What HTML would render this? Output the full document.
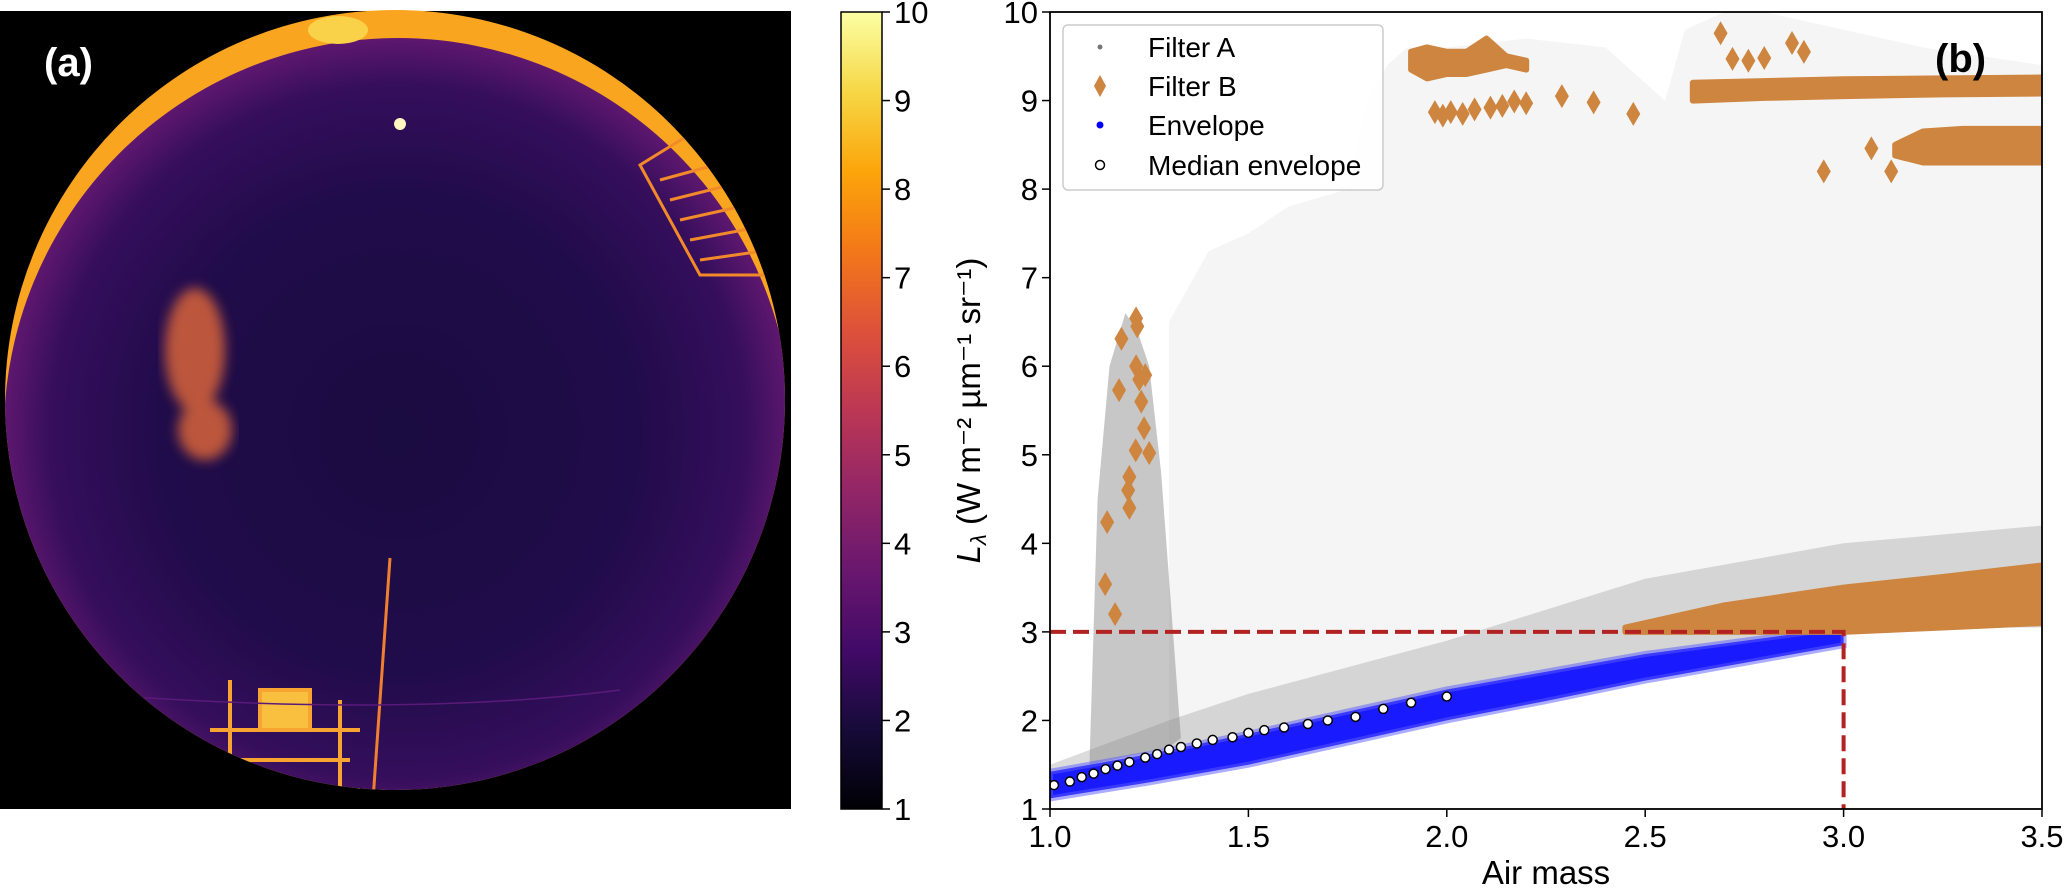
<!DOCTYPE html>
<html><head><meta charset="utf-8"><style>
html,body{margin:0;padding:0;background:#fff;}
svg{display:block;font-family:"Liberation Sans","DejaVu Sans",sans-serif;}
</style></head><body>
<svg id="fig" width="2067" height="891" viewBox="0 0 2067 891" xmlns="http://www.w3.org/2000/svg">
<defs>
<linearGradient id="inferno" x1="0" y1="1" x2="0" y2="0">
<stop offset="0" stop-color="#000004"/><stop offset="0.1" stop-color="#160b39"/><stop offset="0.2" stop-color="#420a68"/><stop offset="0.3" stop-color="#6a176e"/><stop offset="0.4" stop-color="#932667"/><stop offset="0.5" stop-color="#bc3754"/><stop offset="0.6" stop-color="#dd513a"/><stop offset="0.7" stop-color="#f37819"/><stop offset="0.8" stop-color="#fca50a"/><stop offset="0.9" stop-color="#f6d746"/><stop offset="1" stop-color="#fcffa4"/>
</linearGradient>
<radialGradient id="sky" cx="398" cy="432" r="394" gradientUnits="userSpaceOnUse">
<stop offset="0" stop-color="#1a0b40"/><stop offset="0.6" stop-color="#200c4a"/><stop offset="0.88" stop-color="#350e5c"/><stop offset="1" stop-color="#5e176f"/>
</radialGradient>
<clipPath id="circ"><circle cx="395" cy="400" r="390"/></clipPath>
<filter id="blur"><feGaussianBlur stdDeviation="6"/></filter>
</defs>

<g>
<rect x="0" y="11" width="791" height="798" fill="#000"/>
<g clip-path="url(#circ)">
<rect x="0" y="0" width="791" height="809" fill="#f9a51f"/>
<circle cx="398" cy="432" r="394" fill="url(#sky)"/>
<ellipse cx="338" cy="30" rx="30" ry="14" fill="#f9d24a"/>
<g stroke="#f28a2a" stroke-width="3" fill="none">
<path d="M640 165 L700 128 L770 128 L770 275 L700 275 Z"/>
<path d="M660 180 L770 150 M670 200 L770 175 M680 220 L770 200 M690 240 L770 225 M700 260 L770 250"/>
</g>
<g stroke="#f7a530" stroke-width="4" fill="none">
<path d="M210 730 L360 730 M220 760 L350 760 M215 790 L360 790 M230 680 L230 790 M340 700 L340 790"/>
<rect x="260" y="690" width="50" height="40" fill="#f9c040"/>
</g>
<path d="M390 558 L373 800" stroke="#f08030" stroke-width="3"/>
<path d="M40 690 Q390 720 620 690" stroke="#5a1a7a" stroke-width="1.5" fill="none"/>
<path d="M590 800 L700 720 L800 670 L800 820 Z" fill="#f9b530"/>
<g fill="#d8643a" opacity="0.85" filter="url(#blur)">
<ellipse cx="195" cy="350" rx="30" ry="62"/>
<ellipse cx="205" cy="430" rx="27" ry="30"/>
</g>
<circle cx="400" cy="124" r="6" fill="#fff6c0"/>
</g>
<text x="44" y="76" font-size="40" font-weight="bold" fill="#fff">(a)</text>
</g>

<g>
<rect x="841" y="12" width="41" height="797" fill="url(#inferno)" stroke="#000" stroke-width="1.5"/>
<g id="cbticks"></g>
</g>

<g id="chart"></g>
</svg>

<script>
const xTicks = [1.0, 1.5, 2.0, 2.5, 3.0, 3.5];
const xTickLabels = ["1.0", "1.5", "2.0", "2.5", "3.0", "3.5"];
const yTicks = [1, 2, 3, 4, 5, 6, 7, 8, 9, 10];
const yTickLabels = ["1", "2", "3", "4", "5", "6", "7", "8", "9", "10"];
const cbTicks = [1, 2, 3, 4, 5, 6, 7, 8, 9, 10];

const sparseX = [1.3, 1.4, 1.5, 1.6, 1.75, 1.8, 1.85, 1.9, 2.0, 2.2, 2.4, 2.55, 2.6, 2.7, 2.8, 3.0, 3.2, 3.5];
const sparseTop = [6.5, 7.3, 7.5, 7.8, 8.0, 9.0, 9.4, 9.6, 9.6, 9.7, 9.6, 9.0, 9.8, 10, 10, 9.8, 9.6, 9.4];
const denseX = [1.0, 1.3, 1.5, 2.0, 2.5, 3.0, 3.5];
const denseTop = [1.5, 2.0, 2.3, 2.9, 3.6, 4.0, 4.2];
const spikeX = [1.1, 1.12, 1.15, 1.19, 1.22, 1.25, 1.28, 1.31, 1.33, 1.3, 1.2, 1.1];
const spikeY = [1.6, 4.5, 6.0, 6.6, 6.4, 6.0, 4.8, 3.0, 1.8, 1.7, 1.6, 1.5];

const envX = [1.0, 1.25, 1.5, 1.75, 2.0, 2.25, 2.5, 2.75, 3.0];
const envLo = [1.12, 1.3, 1.5, 1.75, 2.0, 2.22, 2.45, 2.65, 2.85];
const envHi = [1.42, 1.62, 1.85, 2.1, 2.35, 2.55, 2.75, 2.9, 3.05];

const medX = [1.01, 1.05, 1.08, 1.11, 1.14, 1.17, 1.2, 1.24, 1.27, 1.3, 1.33, 1.37, 1.41, 1.46, 1.5, 1.54, 1.59, 1.65, 1.7, 1.77, 1.84, 1.91, 2.0];
const medY = [1.27, 1.31, 1.36, 1.4, 1.45, 1.49, 1.53, 1.58, 1.62, 1.67, 1.7, 1.74, 1.78, 1.81, 1.86, 1.89, 1.92, 1.96, 2.0, 2.04, 2.13, 2.2, 2.27];

const bLowX = [2.45, 2.6, 2.7, 2.85, 3.0, 3.25, 3.5];
const bLowLo = [3.0, 3.0, 3.0, 3.0, 3.0, 3.05, 3.1];
const bLowHi = [3.05, 3.2, 3.3, 3.4, 3.5, 3.62, 3.75];
const bTopX = [2.62, 2.8, 3.0, 3.25, 3.5];
const bTopLo = [9.0, 9.03, 9.05, 9.07, 9.08];
const bTopHi = [9.2, 9.22, 9.24, 9.25, 9.26];
const bMidX = [3.13, 3.2, 3.3, 3.4, 3.5];
const bMidLo = [8.38, 8.3, 8.3, 8.3, 8.3];
const bMidHi = [8.5, 8.65, 8.68, 8.68, 8.68];
const bBlobX = [1.91, 1.95, 2.0, 2.05, 2.1, 2.15, 2.2];
const bBlobLo = [9.35, 9.25, 9.3, 9.3, 9.35, 9.4, 9.35];
const bBlobHi = [9.55, 9.6, 9.55, 9.55, 9.7, 9.5, 9.45];

const bX = [1.139, 1.144, 1.164, 1.18, 1.217, 1.22, 1.174, 1.217, 1.225, 1.237, 1.25, 1.216, 1.2, 1.197, 1.2, 1.23, 1.24, 1.97, 1.99, 2.01, 2.04, 2.07, 2.11, 2.14, 2.17, 2.2, 2.29, 2.37, 2.47, 2.69, 2.72, 2.76, 2.8, 2.87, 2.9, 2.95, 3.07, 3.12];
const bY = [3.54, 4.24, 3.2, 6.31, 6.54, 6.45, 5.73, 6.0, 5.85, 5.3, 5.02, 5.05, 4.75, 4.6, 4.4, 5.6, 5.9, 8.87, 8.83, 8.87, 8.85, 8.9, 8.92, 8.94, 8.99, 8.97, 9.05, 8.98, 8.85, 9.76, 9.47, 9.45, 9.48, 9.65, 9.55, 8.2, 8.46, 8.2];

const L = 1050, R = 2042, T = 12, B = 809;
const X = v => L + (v - 1) / 2.5 * (R - L);
const Y = v => B - (v - 1) / 9 * (B - T);
const NS = "http://www.w3.org/2000/svg";
const chart = document.getElementById('chart');
function mk(tag, attrs, parent) {
  const e = document.createElementNS(NS, tag);
  for (const k in attrs) e.setAttribute(k, attrs[k]);
  (parent || chart).appendChild(e);
  return e;
}
function interp(xs, ys, x) {
  if (x <= xs[0]) return ys[0];
  for (let i = 1; i < xs.length; i++) if (x <= xs[i]) { const t = (x - xs[i-1]) / (xs[i] - xs[i-1]); return ys[i-1] + t * (ys[i] - ys[i-1]); }
  return ys[ys.length - 1];
}
function bandPath(xs, lo, hi) {
  let d = xs.map((x, i) => (i ? 'L' : 'M') + X(x).toFixed(1) + ' ' + Y(hi[i]).toFixed(1)).join(' ');
  for (let i = xs.length - 1; i >= 0; i--) d += ' L' + X(xs[i]).toFixed(1) + ' ' + Y(lo[i]).toFixed(1);
  return d + ' Z';
}
const clip = mk('clipPath', {id: 'plotclip'});
mk('rect', {x: L, y: T, width: R - L, height: B - T}, clip);
const g = mk('g', {'clip-path': 'url(#plotclip)'});



let el = mk('path', {d: bandPath(sparseX, sparseX.map(x => interp(envX, envHi, x)), sparseTop), fill: 'rgba(160,160,160,0.1)'}, g);


el = mk('path', {d: bandPath(denseX, denseX.map(x => interp(envX, envHi, x)), denseTop), fill: 'rgba(140,140,140,0.3)'}, g);


el = mk('path', {d: spikeX.map((x, i) => (i ? 'L' : 'M') + X(x).toFixed(1) + ' ' + Y(spikeY[i]).toFixed(1)).join(' ') + ' Z', fill: 'rgba(130,130,130,0.45)'}, g);



el = mk('path', {d: bandPath(envX, envLo, envHi), fill: '#1a1aff', stroke: 'rgba(90,90,255,0.5)', 'stroke-width': 6}, g);



[[bLowX, bLowLo, bLowHi, 'filter-b-low-band'], [bTopX, bTopLo, bTopHi, 'filter-b-top-band'], [bMidX, bMidLo, bMidHi, 'filter-b-mid-band'], [bBlobX, bBlobLo, bBlobHi, 'filter-b-blob']].forEach(b => {
  const p = mk('path', {d: bandPath(b[0], b[1], b[2]), fill: '#cd853f', stroke: '#cd853f', 'stroke-width': 6, 'stroke-linejoin': 'round'}, g);
  
  
});
function diamond(cx, cy, w, h) { return `M${cx} ${cy-h} L${cx+w} ${cy} L${cx} ${cy+h} L${cx-w} ${cy} Z`; }
bX.forEach((x, i) => {
  const p = mk('path', {d: diamond(X(x), Y(bY[i]), 7, 12), fill: '#cd853f'}, g);
  
  
});

medX.forEach((x, i) => {
  const c = mk('circle', {cx: X(x), cy: Y(medY[i]), r: 4.5, fill: '#fff', stroke: '#000', 'stroke-width': 1.5}, g);
  
  
});

el = mk('path', {d: `M${X(1)} ${Y(3)} L${X(3)} ${Y(3)} L${X(3)} ${Y(1)}`, fill: 'none', stroke: '#b22222', 'stroke-width': 4, 'stroke-dasharray': '16 7'});



el = mk('rect', {x: L, y: T, width: R - L, height: B - T, fill: 'none', stroke: '#000', 'stroke-width': 1.8});



xTicks.forEach((v, i) => {
  const t = mk('line', {x1: X(v), x2: X(v), y1: B, y2: B + 8, stroke: '#000', 'stroke-width': 1.5});
  
  
  const tx = mk('text', {x: X(v), y: B + 38, 'font-size': 31, 'text-anchor': 'middle'});
  tx.textContent = xTickLabels[i];
  
  
});
yTicks.forEach((v, i) => {
  const t = mk('line', {x1: L - 8, x2: L, y1: Y(v), y2: Y(v), stroke: '#000', 'stroke-width': 1.5});
  
  
  const tx = mk('text', {x: L - 12, y: Y(v) + 11, 'font-size': 31, 'text-anchor': 'end'});
  tx.textContent = yTickLabels[i];
  
  
});
const cbg = document.getElementById('cbticks');
cbTicks.forEach(v => {
  const y = 809 - (v - 1) / 9 * 797;
  const t = mk('line', {x1: 882, x2: 890, y1: y, y2: y, stroke: '#000', 'stroke-width': 1.5}, cbg);
  
  
  const tx = mk('text', {x: 894, y: y + 11, 'font-size': 31}, cbg);
  tx.textContent = String(v);
  
  
});

el = mk('text', {x: (L + R) / 2, y: 884, 'font-size': 33, 'text-anchor': 'middle'});
el.textContent = 'Air mass';


el = mk('text', {x: 0, y: 0, 'font-size': 33, 'text-anchor': 'middle', transform: `translate(980 ${(T + B) / 2}) rotate(-90)`});
el.innerHTML = '<tspan font-style="italic">L</tspan><tspan font-style="italic" font-size="22" dy="6">λ</tspan><tspan dy="-6"> (W m⁻² µm⁻¹ sr⁻¹)</tspan>';


el = mk('text', {x: 1935, y: 72, 'font-size': 40, 'font-weight': 'bold'});
el.textContent = '(b)';



const lg = mk('g', {});


mk('rect', {x: 1063, y: 25, width: 320, height: 165, rx: 5, fill: 'rgba(255,255,255,0.85)', stroke: '#ccc', 'stroke-width': 1.5}, lg);
const legNames = ['Filter A', 'Filter B', 'Envelope', 'Median envelope'];
const legY = [47, 86, 125, 165];
legNames.forEach((n, i) => {
  const e = mk('g', {}, lg);
  
  
  const cx = 1100, cy = legY[i];
  if (i === 0) mk('circle', {cx, cy, r: 2.5, fill: '#777'}, e);
  if (i === 1) mk('path', {d: diamond(cx, cy, 6, 11), fill: '#cd853f'}, e);
  if (i === 2) mk('circle', {cx, cy, r: 3.5, fill: '#0000ff'}, e);
  if (i === 3) mk('circle', {cx, cy, r: 4.5, fill: '#fff', stroke: '#000', 'stroke-width': 1.5}, e);
  const t = mk('text', {x: 1148, y: cy + 10, 'font-size': 28}, e);
  t.textContent = n;
});
</script>
</body></html>
